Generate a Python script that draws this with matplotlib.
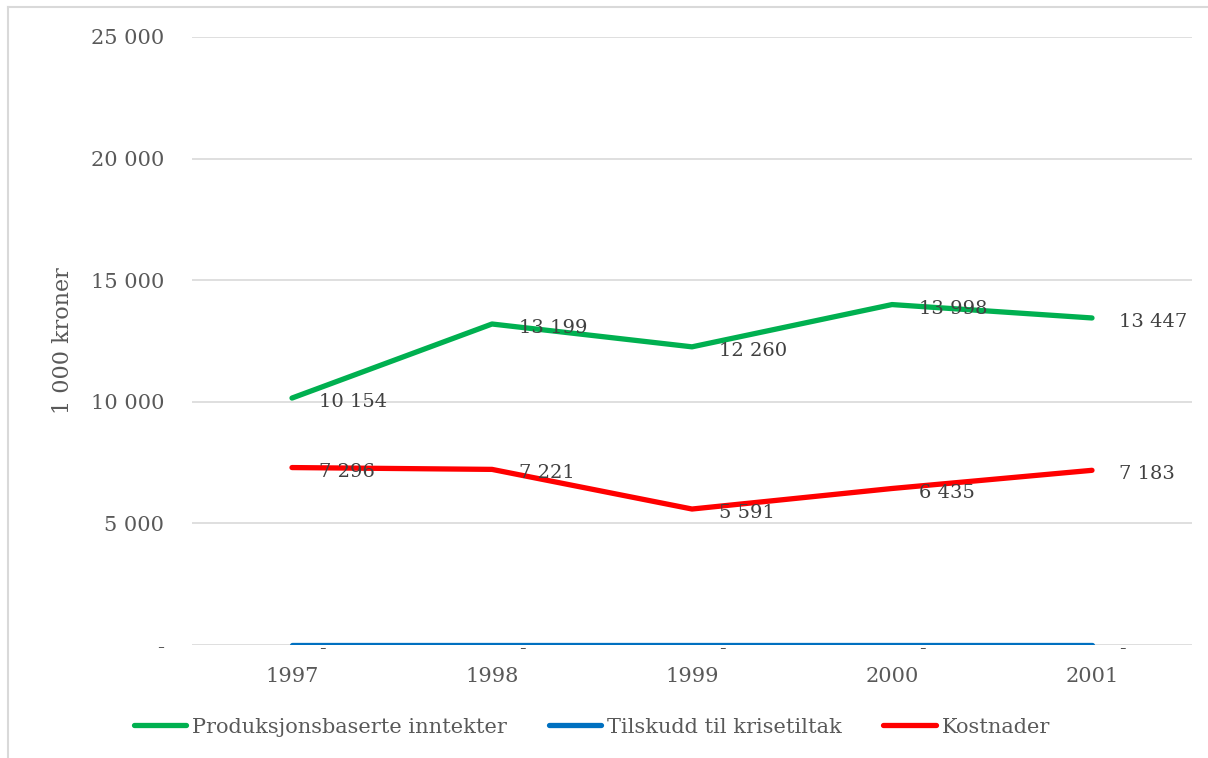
import matplotlib
matplotlib.use("Agg")
import matplotlib.pyplot as plt
from matplotlib.lines import Line2D

years = ["1997", "1998", "1999", "2000", "2001"]
inntekter = [10154, 13199, 12260, 13998, 13447]
tilskudd = [0, 0, 0, 0, 0]
kostnader = [7296, 7221, 5591, 6435, 7183]
y_ticks = [0, 5000, 10000, 15000, 20000, 25000]

series = [("Produksjonsbaserte inntekter", inntekter, "#00b050"),
          ("Tilskudd til krisetiltak", tilskudd, "#0070c0"),
          ("Kostnader", kostnader, "#ff0000")]

TXT = "#595959"
LBL = "#404040"
plt.rcParams["font.family"] = ["DejaVu Serif"]


def fmt(v):
    if v == 0:
        return "-"
    return f"{v:,}".replace(",", " ")


fig = plt.figure(figsize=(12.08, 7.58), dpi=100)
ax = fig.add_axes([192 / 1208, 1 - 645 / 758, 1000 / 1208, 608 / 758])
x = list(range(len(years)))

for name, vals, col in series:
    ax.plot(x, vals, color=col, lw=3.8, solid_capstyle="round", label=name, zorder=3)
    for xi, v in zip(x, vals):
        ax.annotate(fmt(v), (xi, v), xytext=(27, -4), textcoords="offset pixels",
                    ha="left", va="center", fontsize=14, color=LBL, zorder=4)

ax.set_xlim(-0.5, 4.5)
ax.set_ylim(0, 25000)
ax.set_yticks(y_ticks)
ax.set_yticklabels([fmt(v) for v in y_ticks])
ax.set_xticks(x)
ax.set_xticklabels(years)
ax.tick_params(axis="both", length=0, labelsize=15, labelcolor=TXT)
ax.tick_params(axis="y", pad=20)
ax.tick_params(axis="x", pad=16)
ax.grid(axis="y", color="#d9d9d9", lw=1.2)
ax.set_axisbelow(True)
for s in ax.spines.values():
    s.set_visible(False)
ax.set_ylabel("1 000 kroner", fontsize=16, color=TXT, labelpad=12)

ax.legend(loc="center", bbox_to_anchor=(0.40, -0.135), ncol=3, frameon=False,
          fontsize=15, labelcolor=TXT, handlelength=2.5, handletextpad=0.3,
          columnspacing=2.0)

# left and top border of the screenshot
fig.add_artist(Line2D([8 / 1208, 8 / 1208], [0, 1 - 7 / 758], color="#d9d9d9", lw=1.5))
fig.add_artist(Line2D([8 / 1208, 1], [1 - 7 / 758, 1 - 7 / 758], color="#d9d9d9", lw=1.5))

fig.savefig("out.png", dpi=100)
